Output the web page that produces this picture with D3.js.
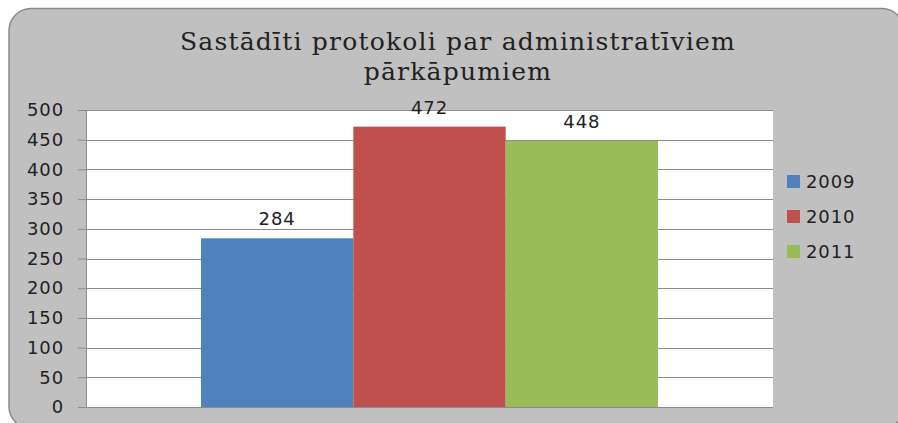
<!DOCTYPE html>
<html><head><meta charset="utf-8">
<script src="https://cdn.jsdelivr.net/npm/d3@7"></script>
<style>body{margin:0;background:#fff}svg{display:block}</style>
</head><body>
<svg id="c" width="898" height="423"></svg>
<script>
const titleLines = ["Sastādīti protokoli par administratīviem", "pārkāpumiem"];
const categories = [""];
const seriesNames = ["2009", "2010", "2011"];
const seriesValues = [284, 472, 448];
const colors = ["#4F81BD", "#C0504D", "#9BBB59"];
const yTicks = [0, 50, 100, 150, 200, 250, 300, 350, 400, 450, 500];

const svg = d3.select("#c");
svg.append("rect").attr("x", 9).attr("y", 8.5).attr("width", 895).attr("height", 420)
  .attr("rx", 22).attr("fill", "#c0c0c0").attr("stroke", "#8a8a8a").attr("stroke-width", 1.5);

const pl = 86, pr = 773, pt = 110, pb = 407;
svg.append("rect").attr("x", pl).attr("y", pt).attr("width", pr - pl).attr("height", pb - pt).attr("fill", "#fff");

const y = d3.scaleLinear().domain([0, 500]).range([pb, pt]);
const x0 = d3.scaleBand().domain(categories).range([pl, pr]).paddingInner(0).paddingOuter(0.2515);
const x1 = d3.scaleBand().domain(seriesNames).range([0, x0.bandwidth()]);

const fontSans = "DejaVu Sans", fs = 18, ls = 0.9;

// gridlines
svg.append("g").selectAll("line").data(yTicks).join("line")
  .attr("x1", pl).attr("x2", pr).attr("y1", d => Math.round(y(d)) + 0.5).attr("y2", d => Math.round(y(d)) + 0.5)
  .attr("stroke", "#8c8c8c").attr("stroke-width", 1);

// axis
const ax = svg.append("g").attr("transform", `translate(${pl},0)`)
  .call(d3.axisLeft(y).tickValues(yTicks).tickSize(8).tickPadding(14));
ax.select(".domain").attr("stroke", "#8c8c8c");
ax.selectAll(".tick line").attr("stroke", "#8c8c8c");
ax.selectAll("text").attr("font-family", fontSans).attr("font-size", fs).attr("fill", "#222")
  .attr("letter-spacing", ls);

// bars
const g = svg.append("g");
categories.forEach(c => {
  g.selectAll("rect.b").data(seriesNames).join("rect").attr("class", "b")
    .attr("x", (d) => x0(c) + x1(d)).attr("width", x1.bandwidth())
    .attr("y", (d, i) => y(seriesValues[i])).attr("height", (d, i) => pb - y(seriesValues[i]))
    .attr("fill", (d, i) => colors[i]);
  g.selectAll("text.l").data(seriesNames).join("text").attr("class", "l")
    .attr("x", d => x0(c) + x1(d) + x1.bandwidth() / 2)
    .attr("y", (d, i) => y(seriesValues[i]) - 13)
    .attr("text-anchor", "middle").attr("font-family", fontSans).attr("font-size", fs)
    .attr("letter-spacing", ls).attr("fill", "#222")
    .text((d, i) => seriesValues[i]);
});

// title
svg.append("g").selectAll("text").data(titleLines).join("text")
  .attr("x", 458).attr("y", (d, i) => 50 + i * 30).attr("text-anchor", "middle")
  .attr("font-family", "DejaVu Serif").attr("font-size", 25).attr("fill", "#222")
  .attr("letter-spacing", 1.2).text(d => d);

// legend
const lg = svg.append("g").selectAll("g").data(seriesNames).join("g")
  .attr("transform", (d, i) => `translate(787,${182 + i * 35})`);
lg.append("rect").attr("x", 0).attr("y", -7).attr("width", 13).attr("height", 13).attr("fill", (d, i) => colors[i]);
lg.append("text").attr("x", 19).attr("y", 6).attr("font-family", fontSans).attr("font-size", fs)
  .attr("letter-spacing", ls).attr("fill", "#222").text(d => d);
</script>
</body></html>
